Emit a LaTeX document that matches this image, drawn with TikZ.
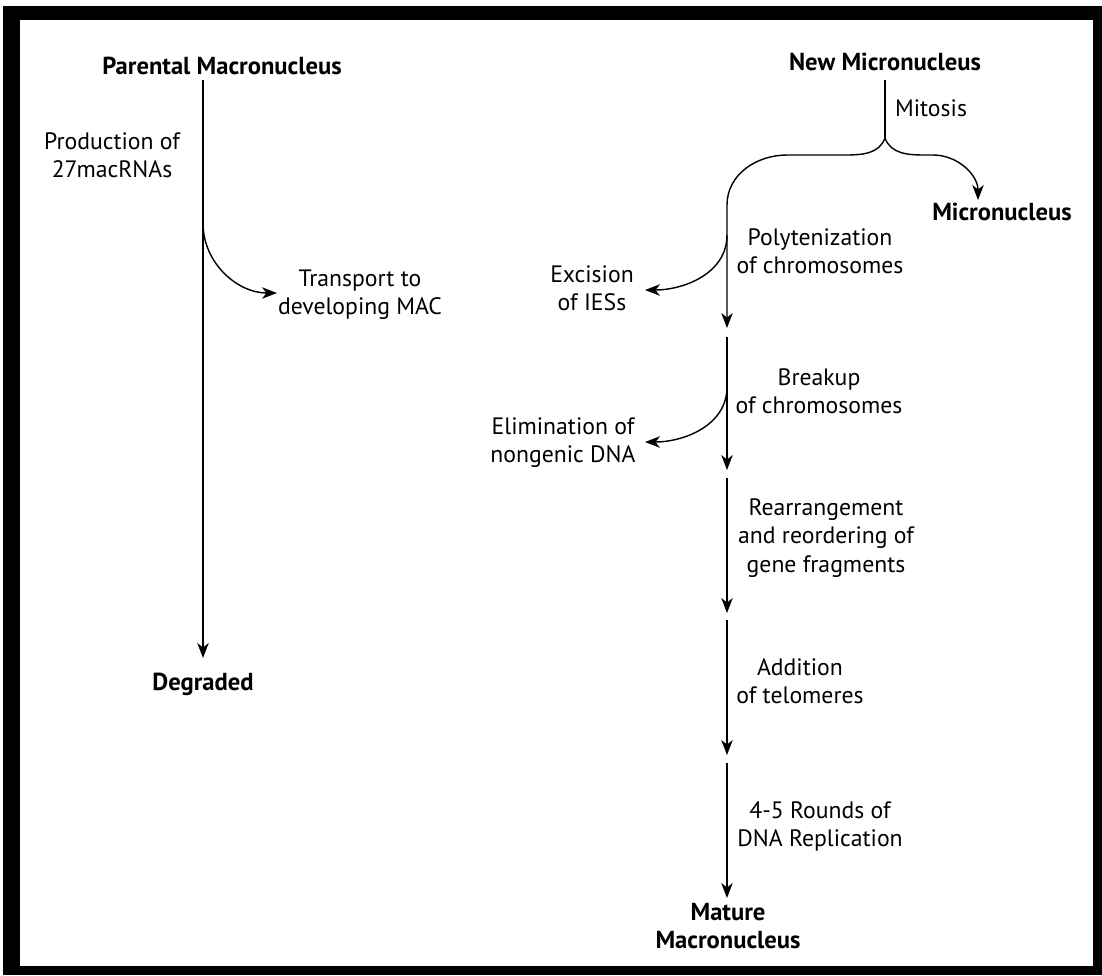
\documentclass[tikz,border=0pt]{standalone}
\usepackage{fontspec}
\setmainfont{PT Sans}
\usetikzlibrary{arrows.meta}

\tikzset{
  nucleus/.style={font=\bfseries\fontsize{14}{16}\selectfont, inner sep=0pt, align=center},
  process/.style={font=\fontsize{13.5}{16}\selectfont, inner sep=0pt, align=center},
}

\begin{document}
\begin{tikzpicture}[x=0.02cm,y=-0.02cm]
		% frame
		\useasboundingbox (0,0) rectangle (1102,975);
		\fill[black] (3,6) rectangle (1102,975);
		\fill[white] (20,20) rectangle (1093,966);
		%
		\node[nucleus] (pmac) at (222,66) {Parental Macronucleus};
		\node[nucleus] (degr) at (203,684) {Degraded};
		\node[nucleus] (nmic) at (885,62) {New Micronucleus};
		\node[nucleus] (mic) at (1002,212) {Micronucleus};
		\node[nucleus] (mature) at (728,926) {Mature\\Macronucleus};
		%
		\node[process] (prod) at (112,155) {Production of\\27macRNAs};
		\node[process] (transport) at (360,295) {Transport to\\developing MAC};
		\node[process] (mitosis) at (931,108) {Mitosis};
		\node[process] (poly) at (820,251) {Polytenization\\of chromosomes};
		\node[process] (excision) at (592,288) {Excision\\of IESs};
		\node[process] (breakup) at (819,391) {Breakup\\of chromosomes};
		\node[process] (elim) at (563,443) {Elimination of\\nongenic DNA};
		\node[process] (rearr) at (826,538) {Rearrangement\\and reordering of\\gene fragments};
		\node[process] (addit) at (800,681) {Addition\\of telomeres};
		\node[process] (rounds) at (820,826) {4-5 Rounds of\\DNA Replication};
		%
		\coordinate (pm0) at (203,80);
		\coordinate (pm1) at (203,223);
		\coordinate (pm2) at (203,658);
		\coordinate (tr) at (277,293);
		\coordinate (nm0) at (885,80);
		\coordinate (fork) at (885,138);
		\coordinate (mi) at (978,200);
		\coordinate (t1) at (727,328);
		\coordinate (b1) at (727,235);
		\coordinate (ex) at (645,290);
		\coordinate (s2) at (727,337);
		\coordinate (t2) at (727,470);
		\coordinate (b2) at (727,387);
		\coordinate (el) at (645,442);
		\coordinate (s3) at (727,478);
		\coordinate (t3) at (727,613);
		\coordinate (s4) at (727,620);
		\coordinate (t4) at (727,755);
		\coordinate (s5) at (727,763);
		\coordinate (t5) at (727,898);
		%
		\begin{scope}[line width=0.8pt,>={Stealth[length=8.5pt,width=6.5pt,inset=2.5pt]}]
		% parental side
		\draw[->] (pm0) -- (pm2);
		\draw[->] (pm1) to[out=-90,in=180] (tr);
		% mitosis fork
		\draw (nm0) -- (fork);
		\draw[->] (fork) to[out=-110,in=0] (845,155) -- (787,155)
			to[out=180,in=90] (727,205) -- (t1);
		\draw[->] (fork) to[out=-70,in=180] (925,155) -- (933,155)
			to[out=0,in=90] (mi);
		% side branches
		\draw[->] (b1) to[out=-90,in=0] (ex);
		\draw[->] (b2) to[out=-90,in=0] (el);
		% main chain
		\path[->]
		(s2) edge (t2)
		(s3) edge (t3)
		(s4) edge (t4)
		(s5) edge (t5);
		\end{scope}
	\end{tikzpicture}
\end{document}
